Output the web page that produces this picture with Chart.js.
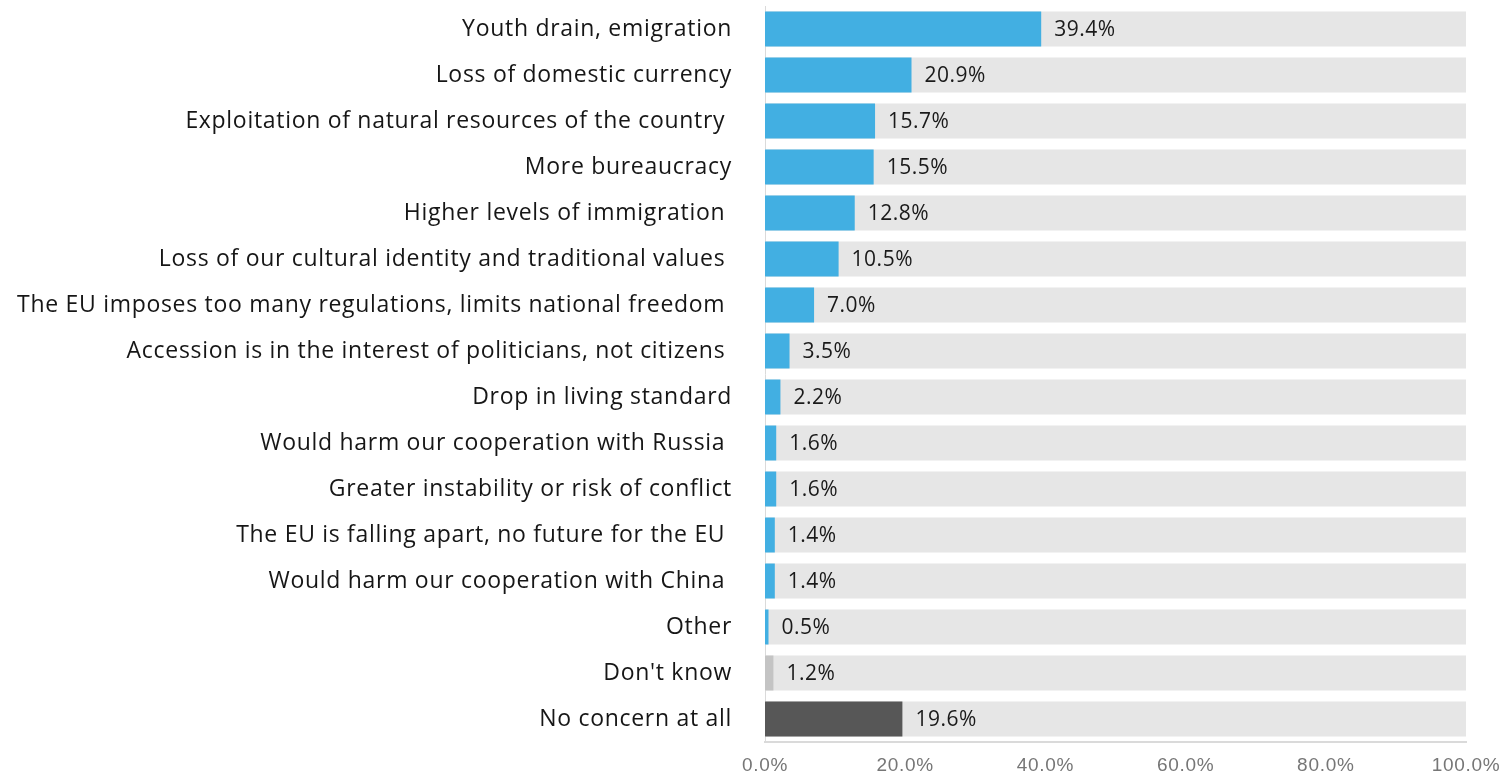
<!DOCTYPE html>
<html>
<head>
<meta charset="utf-8">
<script src="https://cdn.jsdelivr.net/npm/chart.js@4"></script>
<style>
html,body{margin:0;padding:0;background:#fff;}
#wrap{width:1506px;height:777px;}
</style>
</head>
<body>
<div id="wrap"><canvas id="c" width="1506" height="777"></canvas></div>
<script>
const categories = [
  "Youth drain, emigration",
  "Loss of domestic currency",
  "Exploitation of natural resources of the country ",
  "More bureaucracy",
  "Higher levels of immigration ",
  "Loss of our cultural identity and traditional values ",
  "The EU imposes too many regulations, limits national freedom ",
  "Accession is in the interest of politicians, not citizens ",
  "Drop in living standard",
  "Would harm our cooperation with Russia ",
  "Greater instability or risk of conflict",
  "The EU is falling apart, no future for the EU ",
  "Would harm our cooperation with China ",
  "Other",
  "Don't know",
  "No concern at all"
];
const shares = [39.4, 20.9, 15.7, 15.5, 12.8, 10.5, 7.0, 3.5, 2.2, 1.6, 1.6, 1.4, 1.4, 0.5, 1.2, 19.6];
const track = [100,100,100,100,100,100,100,100,100,100,100,100,100,100,100,100];
const xTicks = [0, 20, 40, 60, 80, 100];

const BLUE = "#42AFE2";
const barColors = shares.map((v, i) =>
  categories[i] === "Don't know" ? "#C4C4C4" :
  categories[i] === "No concern at all" ? "#575757" : BLUE);

const FONT = "Open Sans";

const spacing = {
  id: "spacing",
  beforeUpdate(chart) { chart.ctx.letterSpacing = "0.7px"; },
  beforeDraw(chart) { chart.ctx.letterSpacing = "0.7px"; }
};

const valueLabels = {
  id: "valueLabels",
  afterDatasetsDraw(chart) {
    const ctx = chart.ctx;
    const meta = chart.getDatasetMeta(0);
    ctx.save();
    ctx.letterSpacing = "0.5px";
    ctx.font = "21px '" + FONT + "'";
    ctx.fillStyle = "#1a1a1a";
    ctx.textAlign = "left";
    ctx.textBaseline = "middle";
    meta.data.forEach((bar, i) => {
      ctx.fillText(shares[i].toFixed(1) + "%", bar.x + 13, bar.y + 1);
    });
    ctx.restore();
  }
};

new Chart(document.getElementById("c"), {
  type: "bar",
  data: {
    labels: categories,
    datasets: [
      {
        data: shares,
        backgroundColor: barColors,
        borderWidth: 0,
        grouped: false,
        order: 1,
        barPercentage: 0.76,
        categoryPercentage: 1.0
      },
      {
        data: track,
        backgroundColor: "#E6E6E6",
        borderWidth: 0,
        grouped: false,
        order: 2,
        barPercentage: 0.76,
        categoryPercentage: 1.0
      }
    ]
  },
  options: {
    indexAxis: "y",
    responsive: false,
    animation: false,
    layout: { padding: { top: 6, right: 40, left: 0, bottom: 0 } },
    plugins: { legend: { display: false }, tooltip: { enabled: false } },
    scales: {
      x: {
        min: 0, max: 100,
        afterBuildTicks(scale) { scale.ticks = xTicks.map(v => ({ value: v })); },
        afterFit(scale) { scale.height = 35; scale.paddingLeft = 0; scale.paddingRight = 0; },
        grid: { display: false, drawTicks: false },
        border: { display: true, color: "#DADADA", width: 2 },
        ticks: {
          padding: 12,
          color: "#767676",
          font: { family: "Liberation Sans", size: 19 },
          callback: v => Number(v).toFixed(1) + "%"
        }
      },
      y: {
        afterFit(scale) { scale.width = 765; scale.paddingTop = 0; scale.paddingBottom = 0; },
        grid: { display: false, drawTicks: false },
        border: { display: true, color: "#DADADA", width: 1 },
        ticks: {
          padding: 33,
          color: "#161616",
          font: { family: FONT, size: 23 },
          autoSkip: false
        }
      }
    }
  },
  plugins: [spacing, valueLabels]
});
</script>
</body>
</html>
